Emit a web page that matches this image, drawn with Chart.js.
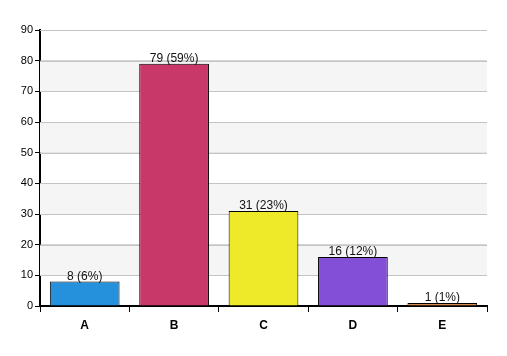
<!DOCTYPE html>
<html><head><meta charset="utf-8">
<script src="https://cdn.jsdelivr.net/npm/chart.js@4/dist/chart.umd.min.js"></script>
<style>html,body{margin:0;padding:0;background:#fff}#wrap{width:507px;height:356px}</style>
</head><body><div id="wrap"><canvas id="c" width="507" height="356"></canvas></div>
<script>
const categories = ['A','B','C','D','E'];
const values = [8, 79, 31, 16, 1];
const valueLabels = ['8 (6%)','79 (59%)','31 (23%)','16 (12%)','1 (1%)'];
const barColors = ['#2590db','#c8396a','#eeea2a','#824fd6','#d88a4c'];
const yMin = 0, yMax = 90, yStep = 10;

const bands = {
  id:'bands',
  beforeDatasetsDraw(chart){
    const {ctx, chartArea:a, scales:{y}} = chart;
    ctx.save();
    ctx.fillStyle = '#f5f5f5';
    for (let v = 10; v < yMax; v += 20) {
      const t = y.getPixelForValue(v+10), b = y.getPixelForValue(v);
      ctx.fillRect(a.left, t, a.right - a.left, b - t);
    }
    ctx.strokeStyle = '#c4c4c4'; ctx.lineWidth = 1;
    for (let v = yStep; v <= yMax; v += yStep) {
      const p = Math.round(y.getPixelForValue(v)) + 0.5;
      ctx.beginPath(); ctx.moveTo(a.left, p); ctx.lineTo(a.right, p); ctx.stroke();
    }
    ctx.restore();
  },
  afterDatasetsDraw(chart){
    const {ctx} = chart;
    const meta = chart.getDatasetMeta(0);
    ctx.save();
    ctx.font = '12px "Liberation Sans", Arial, sans-serif';
    ctx.fillStyle = '#111';
    ctx.textAlign = 'center'; ctx.textBaseline = 'bottom';
    meta.data.forEach((bar, i) => {
      ctx.fillText(valueLabels[i], bar.x, bar.y + 1);
    });
    ctx.restore();
  }
};

new Chart(document.getElementById('c'), {
  type:'bar',
  data:{labels:categories, datasets:[{data:values, backgroundColor:barColors, borderColor:'#000', borderWidth:1, categoryPercentage:0.78, barPercentage:1}]},
  options:{
    responsive:false, animation:false,
    layout:{padding:{top:30, right:20, left:0, bottom:0}},
    plugins:{legend:{display:false}, tooltip:{enabled:false}},
    scales:{
      x:{
        grid:{display:true, drawOnChartArea:false, offset:true, tickLength:6, color:'#000', tickColor:'#000'},
        border:{color:'#000', width:2},
        ticks:{color:'#000', font:{family:'"Liberation Sans", Arial, sans-serif', size:12, weight:'bold'}, padding:6},
        afterFit(s){ s.height = 50; }
      },
      y:{
        min:yMin, max:yMax,
        ticks:{stepSize:yStep, color:'#000', font:{family:'"Liberation Sans", Arial, sans-serif', size:11}, padding:2},
        grid:{color:'#c4c4c4', tickColor:'#000', tickLength:5},
        border:{color:'#000', width:2},
        afterFit(s){ s.width = 40; }
      }
    }
  },
  plugins:[bands]
});
</script></body></html>
